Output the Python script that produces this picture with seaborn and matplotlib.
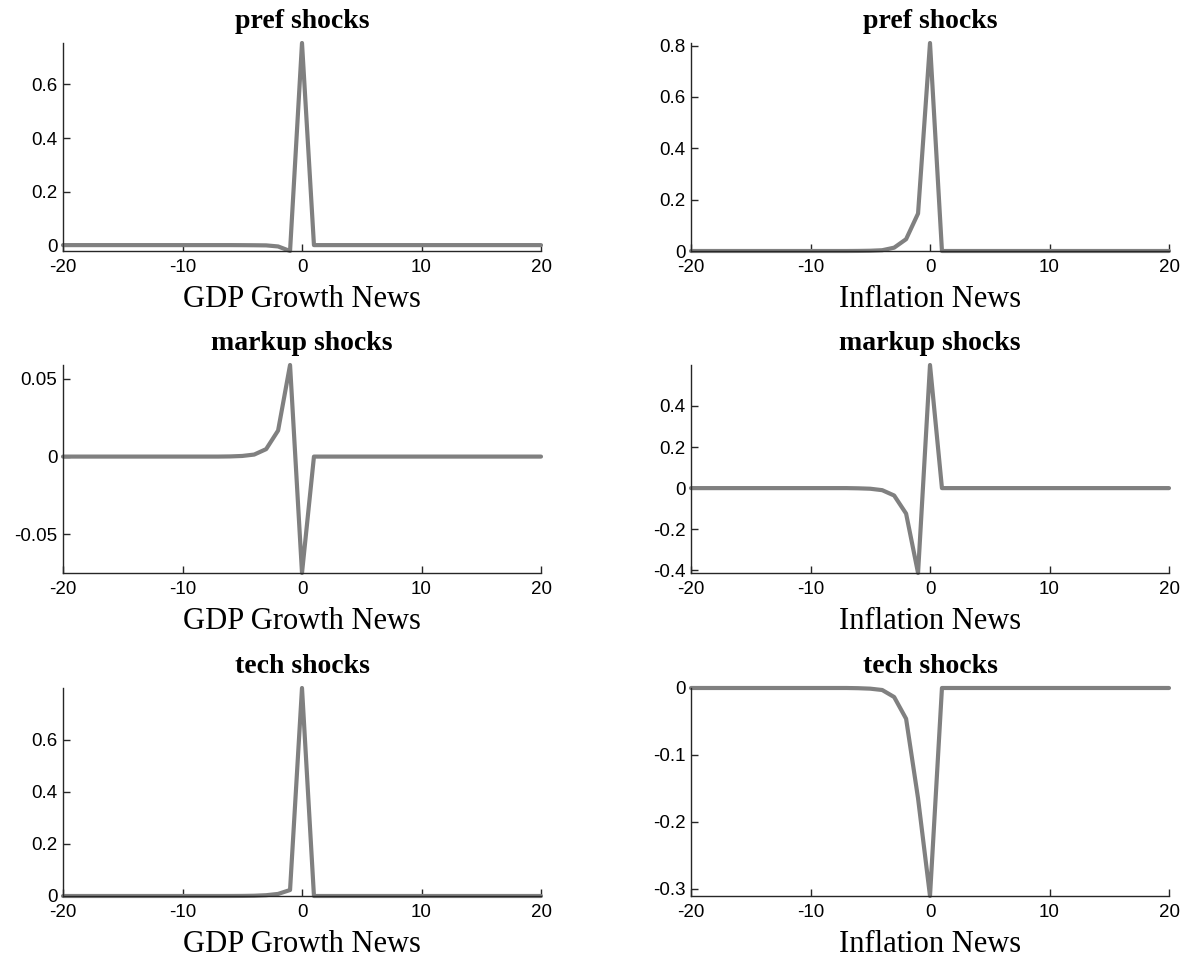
import numpy as np
import pandas as pd
import matplotlib
matplotlib.use("Agg")
import matplotlib.pyplot as plt
import seaborn as sns

# ---------------- data ----------------
lags = [-20, -19, -18, -17, -16, -15, -14, -13, -12, -11, -10, -9, -8, -7, -6,
        -5, -4, -3, -2, -1, 0, 1, 2, 3, 4, 5, 6, 7, 8, 9, 10, 11, 12, 13, 14,
        15, 16, 17, 18, 19, 20]

pref_gdp = [0.0, 0.0, 0.0, 0.0, 0.0, 0.0, 0.0, 0.0, 0.0, 0.0, 0.0, 0.0, 0.0, 0.0, 0.0,
            -0.0002, -0.0005, -0.001, -0.005, -0.022, 0.755, 0.0, 0.0, 0.0, 0.0, 0.0,
            0.0, 0.0, 0.0, 0.0, 0.0, 0.0, 0.0, 0.0, 0.0, 0.0, 0.0, 0.0, 0.0, 0.0, 0.0]
pref_inf = [0.0, 0.0, 0.0, 0.0, 0.0, 0.0, 0.0, 0.0, 0.0, 0.0, 0.0, 0.0, 0.0, 0.0, 0.0003,
            0.001, 0.003, 0.013, 0.046, 0.146, 0.81, 0.0, 0.0, 0.0, 0.0, 0.0,
            0.0, 0.0, 0.0, 0.0, 0.0, 0.0, 0.0, 0.0, 0.0, 0.0, 0.0, 0.0, 0.0, 0.0, 0.0]
markup_gdp = [0.0, 0.0, 0.0, 0.0, 0.0, 0.0, 0.0, 0.0, 0.0, 0.0, 0.0, 0.0, 0.0, 0.0, 0.0001,
              0.0004, 0.0013, 0.0048, 0.0168, 0.059, -0.075, 0.0, 0.0, 0.0, 0.0, 0.0,
              0.0, 0.0, 0.0, 0.0, 0.0, 0.0, 0.0, 0.0, 0.0, 0.0, 0.0, 0.0, 0.0, 0.0, 0.0]
markup_inf = [0.0, 0.0, 0.0, 0.0, 0.0, 0.0, 0.0, 0.0, 0.0, 0.0, 0.0, 0.0, 0.0, 0.0, -0.001,
              -0.003, -0.01, -0.036, -0.124, -0.413, 0.599, 0.0, 0.0, 0.0, 0.0, 0.0,
              0.0, 0.0, 0.0, 0.0, 0.0, 0.0, 0.0, 0.0, 0.0, 0.0, 0.0, 0.0, 0.0, 0.0, 0.0]
tech_gdp = [0.0, 0.0, 0.0, 0.0, 0.0, 0.0, 0.0, 0.0, 0.0, 0.0, 0.0, 0.0, 0.0, 0.0, 0.0001,
            0.0003, 0.001, 0.003, 0.008, 0.023, 0.80, 0.0, 0.0, 0.0, 0.0, 0.0,
            0.0, 0.0, 0.0, 0.0, 0.0, 0.0, 0.0, 0.0, 0.0, 0.0, 0.0, 0.0, 0.0, 0.0, 0.0]
tech_inf = [0.0, 0.0, 0.0, 0.0, 0.0, 0.0, 0.0, 0.0, 0.0, 0.0, 0.0, 0.0, 0.0, 0.0, -0.0003,
            -0.001, -0.003, -0.0135, -0.046, -0.165, -0.311, 0.0, 0.0, 0.0, 0.0, 0.0,
            0.0, 0.0, 0.0, 0.0, 0.0, 0.0, 0.0, 0.0, 0.0, 0.0, 0.0, 0.0, 0.0, 0.0, 0.0]

titles = ["pref shocks", "pref shocks", "markup shocks", "markup shocks",
          "tech shocks", "tech shocks"]
xlabels = ["GDP Growth News", "Inflation News"]
xticks = [-20, -10, 0, 10, 20]
xticklabels = ["-20", "-10", "0", "10", "20"]

yticks_list = [
    [0, 0.2, 0.4, 0.6],
    [0, 0.2, 0.4, 0.6, 0.8],
    [-0.05, 0, 0.05],
    [-0.4, -0.2, 0, 0.2, 0.4],
    [0, 0.2, 0.4, 0.6],
    [-0.3, -0.2, -0.1, 0],
]
yticklabels_list = [
    ["0", "0.2", "0.4", "0.6"],
    ["0", "0.2", "0.4", "0.6", "0.8"],
    ["-0.05", "0", "0.05"],
    ["-0.4", "-0.2", "0", "0.2", "0.4"],
    ["0", "0.2", "0.4", "0.6"],
    ["-0.3", "-0.2", "-0.1", "0"],
]
series = [pref_gdp, pref_inf, markup_gdp, markup_inf, tech_gdp, tech_inf]

# ---------------- style ----------------
sns.set_style("ticks")
plt.rcParams["font.family"] = ["Liberation Sans", "DejaVu Sans"]
plt.rcParams["axes.unicode_minus"] = False
plt.rcParams["text.color"] = "black"
plt.rcParams["axes.labelcolor"] = "black"

W, H = 1191, 965
fig = plt.figure(figsize=(W / 100, H / 100), dpi=100)

col_left = [63, 691]
col_width = 478
row_top = [43, 365, 688]
row_height = 208

line_color = "#808080"
axis_color = "#262626"
serif = ["Liberation Serif", "DejaVu Serif"]

for i, vals in enumerate(series):
    r, c = divmod(i, 2)
    x0 = col_left[c] / W
    y0 = 1 - (row_top[r] + row_height) / H
    ax = fig.add_axes([x0, y0, col_width / W, row_height / H])
    df = pd.DataFrame({"lag": lags, "value": vals})
    sns.lineplot(data=df, x="lag", y="value", ax=ax, color=line_color,
                 linewidth=3.0, clip_on=False)
    ax.set_xlim(-20, 20)
    ax.set_ylim(min(vals), max(vals))
    ax.set_xticks(xticks)
    ax.set_xticklabels(xticklabels)
    ax.set_yticks(yticks_list[i])
    ax.set_yticklabels(yticklabels_list[i])
    ax.tick_params(direction="in", length=5, width=1, colors=axis_color,
                   labelsize=13.5, labelcolor="black")
    ax.tick_params(axis="x", pad=6)
    ax.tick_params(axis="y", pad=4)
    for s in ["top", "right"]:
        ax.spines[s].set_visible(False)
    for s in ["left", "bottom"]:
        ax.spines[s].set_color(axis_color)
        ax.spines[s].set_linewidth(1.0)
    ax.set_title(titles[i], fontsize=20, fontweight="bold", family=serif,
                 pad=11, color="black")
    ax.set_xlabel(xlabels[c], fontsize=22, family=serif, labelpad=6,
                  color="black")
    ax.set_ylabel("")

fig.savefig("out.png", dpi=100)
